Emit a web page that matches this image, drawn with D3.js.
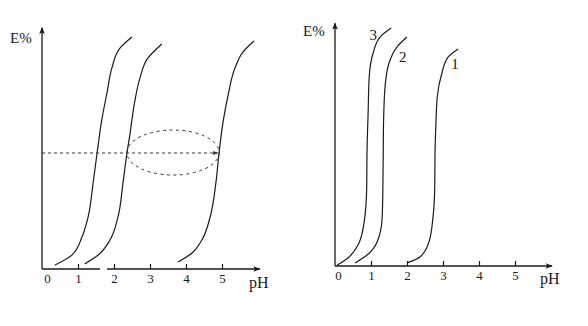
<!DOCTYPE html>
<html lang="en">
<head>
  <meta charset="UTF-8" />
  <title>E% vs pH</title>
  <script src="https://d3js.org/d3.v7.min.js"></script>
  <style>
    body { margin: 0; background-color: white; }
    text { font-family: "Liberation Serif", "Times New Roman", serif; fill: #1a1a1a; }
    .curve { fill: none; stroke: #1a1a1a; stroke-width: 1.2px; }
    .axisline { stroke: #1a1a1a; stroke-width: 1.3px; }
  </style>
</head>
<body>
  <div id="chart"></div>
  <script>
  // ---- data (pH, E%) ----
  var tickValues = [0, 1, 2, 3, 4, 5];

  // left panel: three extraction curves
  var leftA = [[0.36,1.7],[0.83,6.0],[1.11,13.8],[1.28,22.4],[1.42,37.1],[1.53,50],[1.67,65.1],[1.81,76.3],[1.94,86.6],[2.17,95.3],[2.5,100]];
  var leftB = [[1.19,2.2],[1.56,6.0],[1.89,12.5],[2.11,22.4],[2.25,37.1],[2.36,50],[2.44,57.8],[2.56,70.7],[2.72,82.3],[2.94,90.9],[3.33,97]];
  var leftC = [[3.78,3.0],[4.17,6.9],[4.44,12.5],[4.67,22.4],[4.83,37.1],[4.92,50.4],[5.03,63.4],[5.17,75],[5.36,86.6],[5.58,93.5],[5.89,98.3]];

  // dashed guide at E=50 and the dashed ellipse between curve B and C
  var guideLine = [[0, 50], [4.88, 50]];
  var ellipsePH = [2.36, 4.92];
  var ellipseE = [40.5, 59.9];

  // right panel: curves 1, 2, 3
  var right3 = [[0.06,0.4],[0.36,3.4],[0.64,8.8],[0.81,18.5],[0.88,32.8],[0.89,48.7],[0.92,64.3],[0.95,79.4],[1.06,89.5],[1.25,96.2],[1.56,100]];
  var right2 = [[0.56,1.3],[0.89,4.6],[1.17,10.1],[1.31,20.2],[1.33,32.8],[1.34,48.7],[1.35,61.3],[1.39,75.2],[1.5,85.3],[1.72,92],[2.0,96.2]];
  var right1 = [[2.0,1.3],[2.36,3.8],[2.61,10.1],[2.72,20.2],[2.77,32.8],[2.78,48.7],[2.8,58.4],[2.84,71],[2.97,81.1],[3.14,87.8],[3.42,91.2]];
  var rightLabels = [["3", 1.06, 97], ["2", 1.88, 88], ["1", 3.33, 85]];

  var svg = d3.select("#chart")
    .append("svg")
      .attr("width", 588)
      .attr("height", 326);

  // arrow heads
  var defs = svg.append("defs");
  defs.append("marker")
      .attr("id", "arrow")
      .attr("markerUnits", "userSpaceOnUse")
      .attr("viewBox", "0 0 10 10")
      .attr("refX", 9).attr("refY", 5)
      .attr("markerWidth", 9).attr("markerHeight", 7)
      .attr("orient", "auto")
    .append("path")
      .attr("d", "M0,1 L10,5 L0,9 L2,5 Z")
      .attr("fill", "#1a1a1a");
  defs.append("marker")
      .attr("id", "arrowSmall")
      .attr("markerUnits", "userSpaceOnUse")
      .attr("viewBox", "0 0 10 10")
      .attr("refX", 9).attr("refY", 5)
      .attr("markerWidth", 6).attr("markerHeight", 5)
      .attr("orient", "auto")
    .append("path")
      .attr("d", "M0,1 L10,5 L0,9 Z")
      .attr("fill", "#333");

  // curves rise almost vertically, so smooth them along y
  var curveLine = d3.line().curve(d3.curveMonotoneY);
  var line = d3.line();

  function panel(opt) {
    var x = d3.scaleLinear().domain([0, 5]).range(opt.xr);
    var y = d3.scaleLinear().domain([0, 100]).range(opt.yr);
    var g = svg.append("g");

    // y axis with arrow
    g.append("line").attr("class", "axisline")
      .attr("x1", x(0)).attr("x2", x(0))
      .attr("y1", y(0)).attr("y2", y(opt.yTop))
      .attr("marker-end", "url(#arrow)");

    // x axis (may have a break) with arrow
    opt.xSegs.forEach(function(s, i) {
      g.append("line").attr("class", "axisline")
        .attr("x1", x(s[0])).attr("x2", x(s[1]))
        .attr("y1", y(0)).attr("y2", y(0))
        .attr("marker-end", i == opt.xSegs.length - 1 ? "url(#arrow)" : null);
    });

    // ticks + labels
    var ax = g.append("g")
      .attr("transform", "translate(0," + y(0) + ")")
      .call(d3.axisBottom(x).tickValues(tickValues).tickFormat(d3.format("d"))
        .tickSizeInner(-5).tickSizeOuter(0).tickPadding(5));
    ax.select(".domain").remove();
    ax.selectAll(".tick line").attr("stroke", "#1a1a1a").attr("stroke-width", 1.2);
    ax.selectAll(".tick").filter(function(d) { return d == 0; }).select("line").remove();
    ax.selectAll(".tick text")
      .style("font-family", "'Liberation Serif', serif")
      .style("font-size", "13px")
      .attr("fill", "#1a1a1a")
      .attr("dx", function(d) { return d == 0 ? opt.zeroDx : 0; });

    // axis titles
    g.append("text")
      .attr("x", opt.eLabel[0]).attr("y", opt.eLabel[1])
      .style("font-size", "15px")
      .text("E%");
    g.append("text")
      .attr("x", opt.phLabel[0]).attr("y", opt.phLabel[1])
      .style("font-size", "16px")
      .text("pH");

    // curves (points reversed so screen y increases for monotoneY)
    opt.curves.forEach(function(c) {
      var pts = c.map(function(p) { return [x(p[0]), y(p[1])]; }).reverse();
      g.append("path")
        .attr("class", "curve")
        .attr("d", curveLine(pts));
    });
    return {g: g, x: x, y: y};
  }

  // left chart
  var L = panel({
    xr: [42, 222], yr: [269, 37], yTop: 104,
    xSegs: [[0, 1.61], [1.81, 6.05]],
    zeroDx: 5,
    eLabel: [10, 43], phLabel: [249, 288],
    curves: [leftA, leftB, leftC]
  });

  // dashed guide with arrow
  L.g.append("path")
    .attr("d", line(guideLine.map(function(p) { return [L.x(p[0]), L.y(p[1])]; })))
    .attr("fill", "none")
    .attr("stroke", "#333")
    .attr("stroke-width", 1)
    .attr("stroke-dasharray", "3,3")
    .attr("marker-end", "url(#arrowSmall)");

  // dashed ellipse
  L.g.append("ellipse")
    .attr("cx", (L.x(ellipsePH[0]) + L.x(ellipsePH[1])) / 2)
    .attr("cy", (L.y(ellipseE[0]) + L.y(ellipseE[1])) / 2)
    .attr("rx", (L.x(ellipsePH[1]) - L.x(ellipsePH[0])) / 2)
    .attr("ry", (L.y(ellipseE[0]) - L.y(ellipseE[1])) / 2)
    .attr("fill", "none")
    .attr("stroke", "#333")
    .attr("stroke-width", 1)
    .attr("stroke-dasharray", "3,3.5");

  // right chart
  var R = panel({
    xr: [335, 515], yr: [266, 28], yTop: 102,
    xSegs: [[0, 6.03]],
    zeroDx: 3,
    eLabel: [303, 36], phLabel: [540, 284],
    curves: [right3, right2, right1]
  });

  R.g.selectAll(".clabel")
    .data(rightLabels)
    .enter()
    .append("text")
      .attr("class", "clabel")
      .attr("x", function(d) { return R.x(d[1]); })
      .attr("y", function(d) { return R.y(d[2]); })
      .attr("text-anchor", "middle")
      .attr("dy", "0.35em")
      .style("font-size", "15px")
      .text(function(d) { return d[0]; });
  </script>
</body>
</html>
